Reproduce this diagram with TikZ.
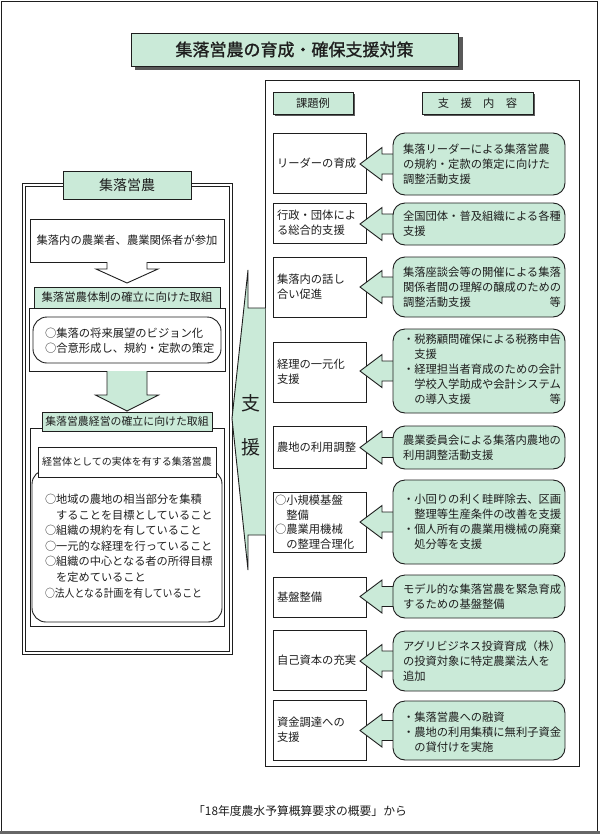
\documentclass[tikz,border=0pt]{standalone}
\usepackage{fontspec}
\setmainfont{Noto Sans CJK JP}
\newfontfamily\jpbold[FakeBold=1.2]{Noto Sans CJK JP}
\usetikzlibrary{calc}
\definecolor{mint}{RGB}{202,234,216}
\definecolor{ink}{RGB}{30,30,30}
\newcommand\boxnode[6]{\node[#1, minimum width={(#5)-(#3)}, minimum height={(#6)-(#4)}] (#2) at ({((#3)+(#5))/2},{((#4)+(#6))/2}) {};}
\newcommand\rowarr[3]{%
  \filldraw[rowarrow] ($(#3.west)+(6,-10)$) -- ($(#3.west)+(-11,-10)$) -- ($(#3.west)+(-11,-16.5)$)
    -- ($(#2.east |- #3.west)+(-6,0)$) coordinate (#1) -- ($(#3.west)+(-11,16.5)$) -- ($(#3.west)+(-11,10)$) -- ($(#3.west)+(6,10)$);}
\begin{document}
\begin{tikzpicture}[x=1pt,y=-1pt,
  every node/.style={inner sep=0pt,outer sep=0pt},
  ln/.style={draw=ink,line width=0.9pt},
  wbox/.style={ln,fill=white,rectangle},
  gbox/.style={ln,fill=mint,rectangle},
  ground/.style={ln,fill=mint,rectangle,rounded corners=12pt},
  wround/.style={ln,fill=white,rectangle,rounded corners=14pt},
  txt/.style={font=\fontsize{11.3}{14.8}\selectfont,align=left,text=ink},
  ctxt/.style={txt,align=center},
  rowarrow/.style={ln,fill=mint,line join=miter},
  shadow/.style={fill=black!65,draw=none,rectangle},
]
\fill[white] (0,0) rectangle (600,835);
\useasboundingbox (0,0) rectangle (600,835);
% outer frame
\draw[ink,line width=1pt] (1,833) -- (1,1) -- (597.5,1) -- (597.5,833);
\draw[black!60,line width=2.5pt] (0,832.5) -- (600,832.5);

% title
\boxnode{shadow}{titlesh}{135}{37}{463}{70}
\boxnode{gbox}{title}{131}{33}{458}{66}
\node[font=\jpbold\fontsize{17}{20}\selectfont,text=ink] (titletxt) at (title) {集落営農の育成・確保支援対策};

% right panel
\boxnode{wbox}{rp}{265}{80}{579}{766}
\boxnode{shadow}{h1sh}{275}{94}{355}{116}
\boxnode{gbox}{h1}{273}{92}{353}{114}
\node[ctxt] (h1t) at (h1) {課題例};
\boxnode{shadow}{h2sh}{424}{94}{535}{116}
\boxnode{gbox}{h2}{422}{92}{533}{114}
\node[ctxt] (h2t) at (h2) {支　援　内　容};

% white boxes (課題例)
\boxnode{wbox}{w1}{273}{133}{366}{193}
\boxnode{wbox}{w2}{273}{203}{366}{243}
\boxnode{wbox}{w3}{273}{257}{366}{317}
\boxnode{wbox}{w4}{273}{342}{366}{402}
\boxnode{wbox}{w5}{273}{426}{366}{468}
\boxnode{wbox}{w6}{273}{492}{366}{552}
\boxnode{wbox}{w7}{273}{577}{366}{617}
\boxnode{wbox}{w8}{273}{630}{366}{690}
\boxnode{wbox}{w9}{273}{700}{366}{760}
\node[txt,anchor=west] (w1t) at ($(w1.west)+(4,0)$) {リーダーの育成};
\node[txt,anchor=west] (w2t) at ($(w2.west)+(4,0)$) {行政・団体によ\\る総合的支援};
\node[txt,anchor=west] (w3t) at ($(w3.west)+(4,0)$) {集落内の話し\\合い促進};
\node[txt,anchor=west] (w4t) at ($(w4.west)+(4,0)$) {経理の一元化\\支援};
\node[txt,anchor=west] (w5t) at ($(w5.west)+(4,0)$) {農地の利用調整};
\node[txt,anchor=west,font=\fontsize{11.3}{14.5}\selectfont] (w6t) at ($(w6.west)+(2,0)$) {○小規模基盤\\　整備\\○農業用機械\\　の整理合理化};
\node[txt,anchor=west] (w7t) at ($(w7.west)+(4,0)$) {基盤整備};
\node[txt,anchor=west] (w8t) at ($(w8.west)+(4,0)$) {自己資本の充実};
\node[txt,anchor=west] (w9t) at ($(w9.west)+(4,0)$) {資金調達への\\支援};

% green boxes positions (named first as coordinates for arrows)
\path (479,164) coordinate (g1c) (479,224) coordinate (g2c);
% arrows need green nodes: define green boxes, then arrows, then redraw boxes on top
\boxnode{rectangle}{g1}{393}{133}{565}{195}
\boxnode{rectangle}{g2}{393}{203}{565}{245}
\boxnode{rectangle}{g3}{393}{257}{565}{317}
\boxnode{rectangle}{g4}{393}{329}{565}{413}
\boxnode{rectangle}{g5}{393}{426}{565}{469}
\boxnode{rectangle}{g6}{393}{480}{565}{564}
\boxnode{rectangle}{g7}{393}{575}{565}{618}
\boxnode{rectangle}{g8}{393}{631}{565}{691}
\boxnode{rectangle}{g9}{393}{701}{565}{760}
\rowarr{a1}{w1}{g1}
\rowarr{a2}{w2}{g2}
\rowarr{a3}{w3}{g3}
\rowarr{a4}{w4}{g4}
\rowarr{a5}{w5}{g5}
\rowarr{a6}{w6}{g6}
\rowarr{a7}{w7}{g7}
\rowarr{a8}{w8}{g8}
\rowarr{a9}{w9}{g9}
\foreach \n in {g1,g2,g3,g4,g5,g6,g7,g8,g9}{
  \draw[ln,fill=mint,rounded corners=12pt] (\n.north west) rectangle (\n.south east);
}
\node[txt,anchor=west] (g1t) at ($(g1.west)+(10,0)$) {集落リーダーによる集落営農\\の規約・定款の策定に向けた\\調整活動支援};
\node[txt,anchor=west] (g2t) at ($(g2.west)+(10,0)$) {全国団体・普及組織による各種\\支援};
\node[txt,anchor=west] (g3t) at ($(g3.west)+(10,0)$) {集落座談会等の開催による集落\\関係者間の理解の醸成のための\\\makebox[158pt][l]{調整活動支援\hfill 等}};
\node[txt,anchor=west,font=\fontsize{11.3}{15}\selectfont] (g4t) at ($(g4.west)+(10,-2)$) {・税務顧問確保による税務申告\\　支援\\・経理担当者育成のための会計\\　学校入学助成や会計システム\\\makebox[158pt][l]{　の導入支援\hfill 等}};
\node[txt,anchor=west] (g5t) at ($(g5.west)+(10,0)$) {農業委員会による集落内農地の\\利用調整活動支援};
\node[txt,anchor=west,font=\fontsize{11.3}{15}\selectfont] (g6t) at ($(g6.west)+(10,0)$) {・小回りの利く畦畔除去、区画\\　整理等生産条件の改善を支援\\・個人所有の農業用機械の廃棄\\　処分等を支援};
\node[txt,anchor=west] (g7t) at ($(g7.west)+(10,0)$) {モデル的な集落営農を緊急育成\\するための基盤整備};
\node[txt,anchor=west] (g8t) at ($(g8.west)+(10,0)$) {アグリビジネス投資育成（株）\\の投資対象に特定農業法人を\\追加};
\node[txt,anchor=west] (g9t) at ($(g9.west)+(10,2)$) {・集落営農への融資\\・農地の利用集積に無利子資金\\　の貸付けを実施};

% left panel
\boxnode{ln,rectangle}{lpo}{22}{183}{232}{654}
\boxnode{ln,rectangle}{lpi}{25}{186}{229}{651}
\boxnode{gbox}{ltab}{63}{171}{191}{199}
\node[ctxt,font=\fontsize{14}{16}\selectfont] (ltabt) at (ltab) {集落営農};
\boxnode{wbox}{lb1}{30}{219}{224}{262}
\node[ctxt] (lb1t) at (lb1) {集落内の農業者、農業関係者が参加};
\boxnode{wbox}{lb2}{29}{308}{225}{371}
\boxnode{gbox}{ltab2}{34}{287}{220}{308}
\node[ctxt,font=\fontsize{11.4}{14}\selectfont] (ltab2t) at (ltab2) {集落営農体制の確立に向けた取組};
\filldraw[ln,fill=white,line join=miter] ($(lb1.south)+(-20,0)$) -- ($(lb1.south)+(-20,7)$) -- ($(lb1.south)+(-31,7)$)
  -- ($(ltab2.north)+(0,-4)$) -- ($(lb1.south)+(31,7)$) -- ($(lb1.south)+(20,7)$) -- ($(lb1.south)+(20,0)$);
\boxnode{wround}{lr1}{33}{317}{221}{363}
\node[txt,anchor=west] (lr1t) at ($(lr1.west)+(12,1)$) {○集落の将来展望のビジョン化\\○合意形成し、規約・定款の策定};

\boxnode{wbox}{lb3}{30}{428}{224}{626}
\boxnode{gbox}{ltab3}{42}{412}{212}{431}
\node[ctxt,font=\fontsize{10.9}{13}\selectfont] (ltab3t) at (ltab3) {集落営農経営の確立に向けた取組};
\filldraw[ln,fill=mint,line join=miter] ($(lb2.south)+(-20,0)$) -- ($(lb2.south)+(-20,24)$) -- ($(lb2.south)+(-31.5,24)$)
  -- ($(ltab3.north)+(0,-1)$) -- ($(lb2.south)+(31.5,24)$) -- ($(lb2.south)+(20,24)$) -- ($(lb2.south)+(20,0)$);
\boxnode{wround}{lr2}{32}{470}{222}{622}
\boxnode{wbox}{lhdr}{38}{447}{216}{477}
\node[ctxt,font=\fontsize{10}{12}\selectfont] (lhdrt) at (lhdr) {経営体としての実体を有する集落営農};
\node[txt,anchor=west,font=\fontsize{11.2}{15.6}\selectfont] (lr2t) at (45,546) {○地域の農地の相当部分を集積\\　することを目標としていること\\○組織の規約を有していること\\○一元的な経理を行っていること\\○組織の中心となる者の所得目標\\　を定めていること\\\scalebox{0.88}[1]{○法人となる計画を有していること}};

% 支援 arrow
\coordinate (sTip) at (lpo.east);
\filldraw[ln,fill=mint,line join=miter] (265.4,308) -- (248,308) -- (248,270) -- (sTip) -- (248,570) -- (248,535) -- (265.4,535);
\node[ctxt,font=\fontsize{19}{22}\selectfont] (s1) at (251,403) {支};
\node[ctxt,font=\fontsize{19}{22}\selectfont] (s2) at (251,447) {援};

% source
\node[ctxt,font=\fontsize{11.8}{14}\selectfont] (src) at (300,811) {「18年度農水予算概算要求の概要」から};
\end{tikzpicture}
\end{document}
